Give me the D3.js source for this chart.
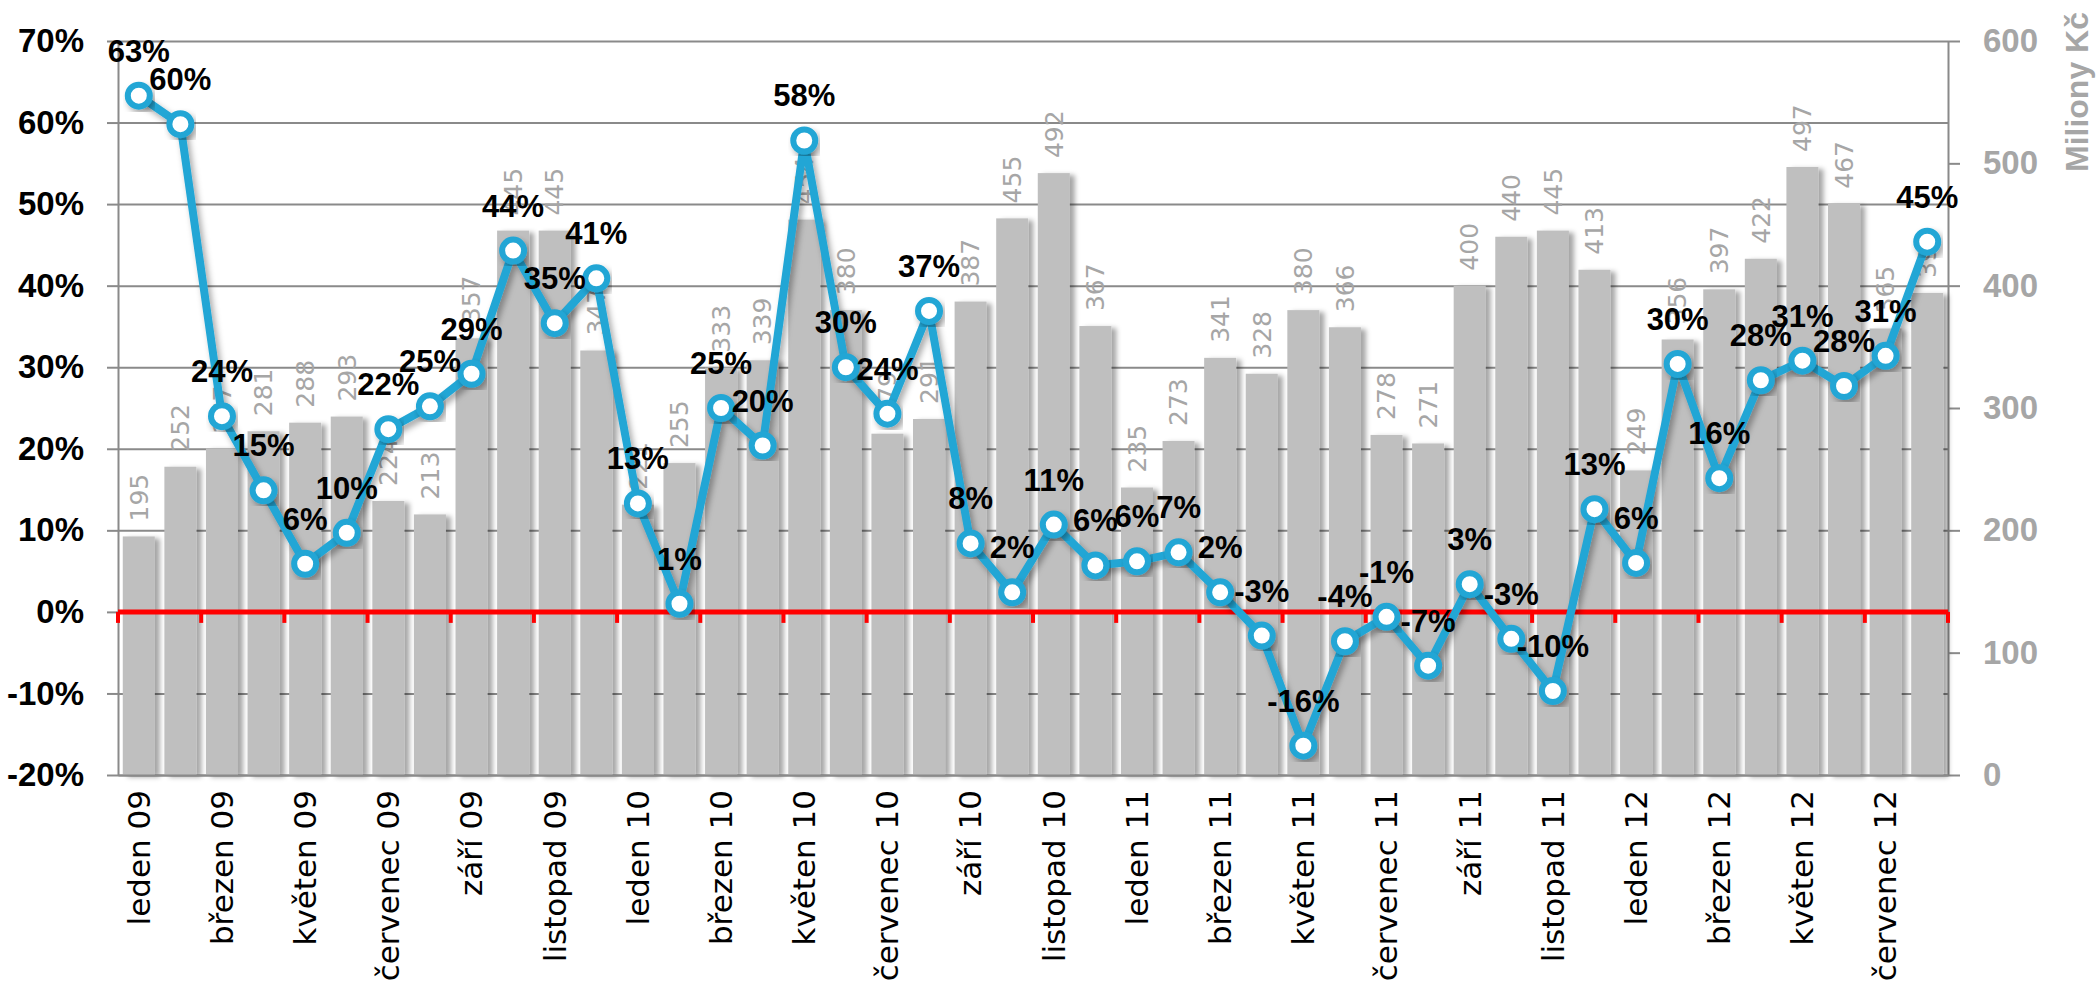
<!DOCTYPE html>
<html>
<head>
<meta charset="utf-8">
<script src="https://cdn.jsdelivr.net/npm/d3@7"></script>
<style>
body { margin: 0; background: #fff; }
.bold { font-family: 'Liberation Sans Narrow', 'Arial Narrow', 'Liberation Sans', sans-serif; font-weight: bold; }
</style>
</head>
<body>
<svg width="2096" height="983"></svg>
<script>
// months Jan 2009 - Aug 2012
var monthNames = ["leden","únor","březen","duben","květen","červen","červenec","srpen","září","říjen","listopad","prosinec"];
var years = ["09","10","11","12"];
var categories = [];
years.forEach(function(y){
    monthNames.forEach(function(m){ categories.push(m + " " + y); });
});
categories = categories.slice(0, 44);

// bars, right axis (Miliony Kč)
var volumes = [195,252,267,281,288,293,224,213,357,445,445,347,221,255,333,339,454,380,279,291,387,455,492,367,235,273,341,328,380,366,278,271,400,440,445,413,249,356,397,422,497,467,365,394];
// line, left axis (%)
var growth = [63.3,59.8,24.0,14.9,5.9,9.7,22.4,25.2,29.2,44.3,35.4,40.9,13.3,1.0,25.0,20.4,57.8,30.0,24.3,36.9,8.4,2.4,10.7,5.7,6.2,7.3,2.4,-2.9,-16.4,-3.6,-0.6,-6.6,3.4,-3.3,-9.7,12.6,6.0,30.4,16.4,28.4,30.8,27.7,31.4,45.4];
var leftTicks = [-20,-10,0,10,20,30,40,50,60,70];
var rightTicks = [0,100,200,300,400,500,600];

var plotL = 118, plotR = 1948, plotT = 41, plotB = 775;
var blue = "#23a6d5", grid = "#8a8a8a", gray = "#a6a6a6";

var svg = d3.select("svg");

var defs = svg.append("defs");
defs.append("filter").attr("id", "barShadow")
    .attr("x", "-30%").attr("y", "-10%").attr("width", "170%").attr("height", "120%")
    .append("feDropShadow")
    .attr("dx", 5).attr("dy", 2).attr("stdDeviation", 2.5)
    .attr("flood-color", "#000").attr("flood-opacity", 0.35);
defs.append("filter").attr("id", "lineShadow")
    .attr("x", "-20%").attr("y", "-20%").attr("width", "140%").attr("height", "140%")
    .append("feDropShadow")
    .attr("dx", 3).attr("dy", 4).attr("stdDeviation", 3)
    .attr("flood-color", "#000").attr("flood-opacity", 0.35);

var x = d3.scaleBand().domain(categories).range([plotL, plotR])
    .paddingInner(0.23).paddingOuter(0.115);
var yL = d3.scaleLinear().domain([-20, 70]).range([plotB, plotT]);
var yR = d3.scaleLinear().domain([0, 600]).range([plotB, plotT]);
var cx = function(d, i){ return x(categories[i]) + x.bandwidth() / 2; };

// gridlines
var gridG = svg.append("g")
    .attr("transform", "translate(" + plotL + ",0)")
    .call(d3.axisRight(yL).tickValues(leftTicks).tickSize(plotR - plotL).tickFormat(""));
gridG.select(".domain").remove();
gridG.selectAll("line").attr("stroke", grid).attr("stroke-width", 2);

// left axis
var leftAxis = svg.append("g")
    .attr("transform", "translate(" + plotL + ",0)")
    .call(d3.axisLeft(yL).tickValues(leftTicks).tickSize(11).tickSizeOuter(0).tickPadding(23)
        .tickFormat(function(d){ return d + "%"; }));
leftAxis.select(".domain").attr("stroke", grid).attr("stroke-width", 2);
leftAxis.selectAll("line").attr("stroke", grid).attr("stroke-width", 2);
leftAxis.selectAll("text").attr("class", "bold").style("font-size", "33px").attr("fill", "#000");

// right axis
var rightAxis = svg.append("g")
    .attr("transform", "translate(" + plotR + ",0)")
    .call(d3.axisRight(yR).tickValues(rightTicks).tickSize(12).tickSizeOuter(0).tickPadding(23)
        .tickFormat(d3.format("d")));
rightAxis.select(".domain").attr("stroke", grid).attr("stroke-width", 2);
rightAxis.selectAll("line").attr("stroke", grid).attr("stroke-width", 2);
rightAxis.selectAll("text").attr("class", "bold").style("font-size", "33px").attr("fill", gray);

svg.append("text")
    .attr("class", "bold")
    .attr("transform", "translate(2077,12) rotate(-90)")
    .attr("text-anchor", "end")
    .attr("dy", "0.35em")
    .style("font-size", "32px")
    .attr("fill", gray)
    .text("Miliony Kč");

// bars
svg.append("g").selectAll("rect")
    .data(volumes)
    .enter().append("rect")
    .attr("x", function(d, i){ return x(categories[i]); })
    .attr("y", function(d){ return yR(d); })
    .attr("width", x.bandwidth())
    .attr("height", function(d){ return plotB - yR(d); })
    .attr("fill", "#bfbfbf")
    .attr("filter", "url(#barShadow)");

// bar labels
svg.append("g").selectAll("text")
    .data(volumes)
    .enter().append("text")
    .attr("transform", function(d, i){ return "translate(" + cx(d, i) + "," + (yR(d) - 15) + ") rotate(-90)"; })
    .attr("dy", "0.35em")
    .attr("text-anchor", "start")
    .style("font-family", "'DejaVu Sans', sans-serif")
    .style("font-size", "25px")
    .attr("fill", gray)
    .text(function(d){ return d; });

// bottom axis with category labels
var bottomAxis = svg.append("g")
    .attr("transform", "translate(0," + plotB + ")")
    .call(d3.axisBottom(x).tickSize(0).tickSizeOuter(0)
        .tickFormat(function(d, i){ return i % 2 === 0 ? d : ""; }));
bottomAxis.select(".domain").attr("stroke", grid).attr("stroke-width", 2);
bottomAxis.selectAll("text")
    .attr("transform", "rotate(-90)")
    .attr("x", -15).attr("y", 0).attr("dy", "0.35em")
    .attr("text-anchor", "end")
    .style("font-family", "'DejaVu Sans', sans-serif")
    .style("font-size", "31px")
    .attr("fill", "#000");

// red zero line with ticks every two months
var edges = categories.filter(function(d, i){ return i % 2 === 0; })
    .map(function(d){ return x(d) - (x.step() - x.bandwidth()) / 2; });
edges.push(plotR);
svg.append("line")
    .attr("x1", plotL).attr("x2", plotR)
    .attr("y1", yL(0)).attr("y2", yL(0))
    .attr("stroke", "#ff0000").attr("stroke-width", 5);
svg.append("g").selectAll("line")
    .data(edges)
    .enter().append("line")
    .attr("x1", function(d){ return d; }).attr("x2", function(d){ return d; })
    .attr("y1", yL(0)).attr("y2", yL(0) + 11)
    .attr("stroke", "#ff0000").attr("stroke-width", 4);

// growth line
var line = d3.line()
    .x(function(d, i){ return cx(d, i); })
    .y(function(d){ return yL(d); });
svg.append("path")
    .datum(growth)
    .attr("d", line)
    .attr("fill", "none")
    .attr("stroke", blue)
    .attr("stroke-width", 8)
    .attr("stroke-linejoin", "round")
    .attr("filter", "url(#lineShadow)");

svg.append("g").selectAll("circle")
    .data(growth)
    .enter().append("circle")
    .attr("cx", cx)
    .attr("cy", function(d){ return yL(d); })
    .attr("r", 11)
    .attr("fill", "#fff")
    .attr("stroke", blue)
    .attr("stroke-width", 6)
    .attr("filter", "url(#lineShadow)");

svg.append("g").selectAll("text")
    .data(growth)
    .enter().append("text")
    .attr("class", "bold")
    .attr("x", cx)
    .attr("y", function(d){ return yL(d) - 34; })
    .attr("text-anchor", "middle")
    .style("font-size", "31px")
    .attr("fill", "#000")
    .text(function(d){ return Math.round(d) + "%"; });
</script>
</body>
</html>
